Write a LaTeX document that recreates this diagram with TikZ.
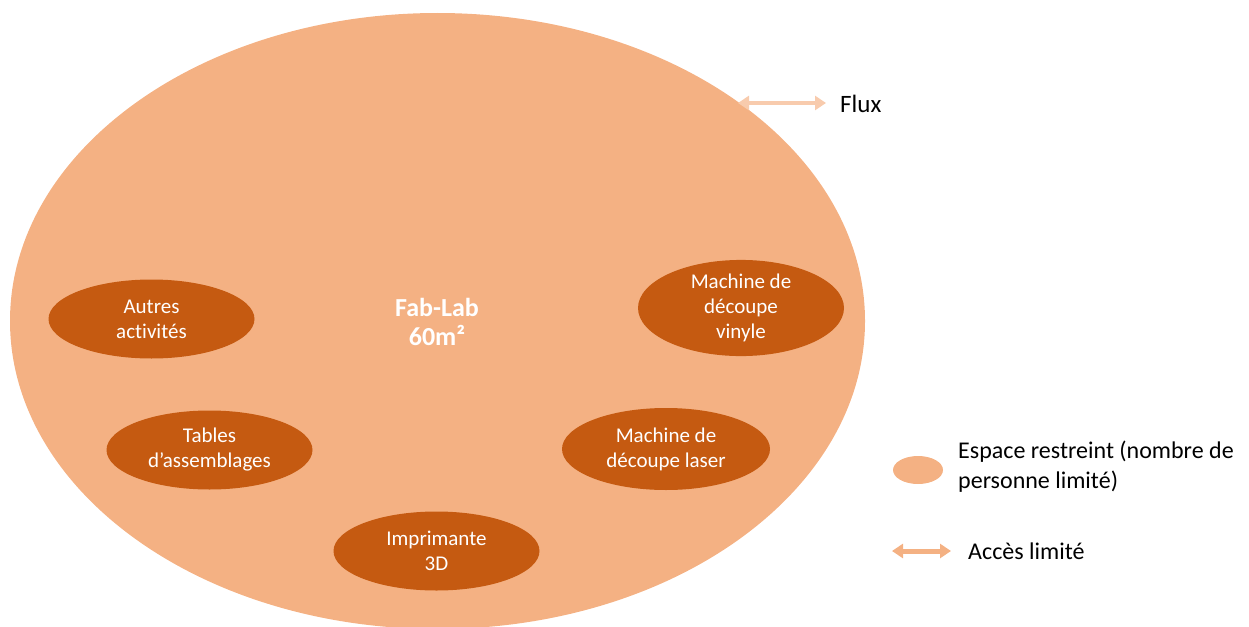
\documentclass[tikz,border=0pt]{standalone}
\usepackage{fontspec}
\setmainfont{Carlito}[Ligatures=NoCommon]
\usetikzlibrary{arrows.meta,shapes.geometric}
\definecolor{zone}{HTML}{F4B183}
\definecolor{poste}{HTML}{C55A11}
\definecolor{fluxc}{HTML}{F8CBAD}
\tikzset{
  poste/.style={ellipse, fill=poste, minimum width=206pt, minimum height=79pt, inner sep=0pt,
    text=white, align=center, font=\fontsize{21}{25}\selectfont},
  lbl/.style={text=black, anchor=west, align=left, inner sep=0pt, font=\fontsize{24}{30}\selectfont},
  fluxarrow/.style={line width=4.5pt, {Triangle[width=14pt,length=11pt]}-{Triangle[width=14pt,length=11pt]}},
}
\begin{document}
\begin{tikzpicture}[x=1pt,y=-1pt]
\useasboundingbox (0,0) rectangle (1249,626);
% the room
\fill[zone] (437.5,321) ellipse [x radius=427.5, y radius=308];
\node[text=white, align=center, font=\bfseries\fontsize{26}{29}\selectfont] (fablab) at (437,322) {Fab-Lab\\60m²};
% work stations
\node[poste] (autres) at (151.5,319) {Autres\\activités};
\node[poste] (vinyle) at (741,308) {Machine de\\découpe\\vinyle};
\node[poste] (tables) at (209.5,450) {Tables\\d’assemblages};
\node[poste, minimum width=208pt, minimum height=82pt] (laser) at (666,449) {Machine de\\découpe laser};
\node[poste] (imprim) at (436.5,551) {Imprimante\\3D};
% flux arrow
\coordinate (fa) at (738,103);
\coordinate (fb) at (826,103);
\draw[fluxarrow, fluxc] (fa) -- (fb);
\node[lbl, font=\fontsize{25}{30}\selectfont] (flux) at (840,104) {Flux};
% legend
\fill[zone] (918,470) ellipse [x radius=25, y radius=14];
\node[lbl] (esp) at (958,467) {Espace restreint (nombre de\\personne limité)};
\coordinate (la) at (892,551);
\coordinate (lb) at (951,551);
\draw[fluxarrow, zone, line width=5pt] (la) -- (lb);
\node[lbl] (acces) at (968,551) {Accès limité};
\end{tikzpicture}
\end{document}
